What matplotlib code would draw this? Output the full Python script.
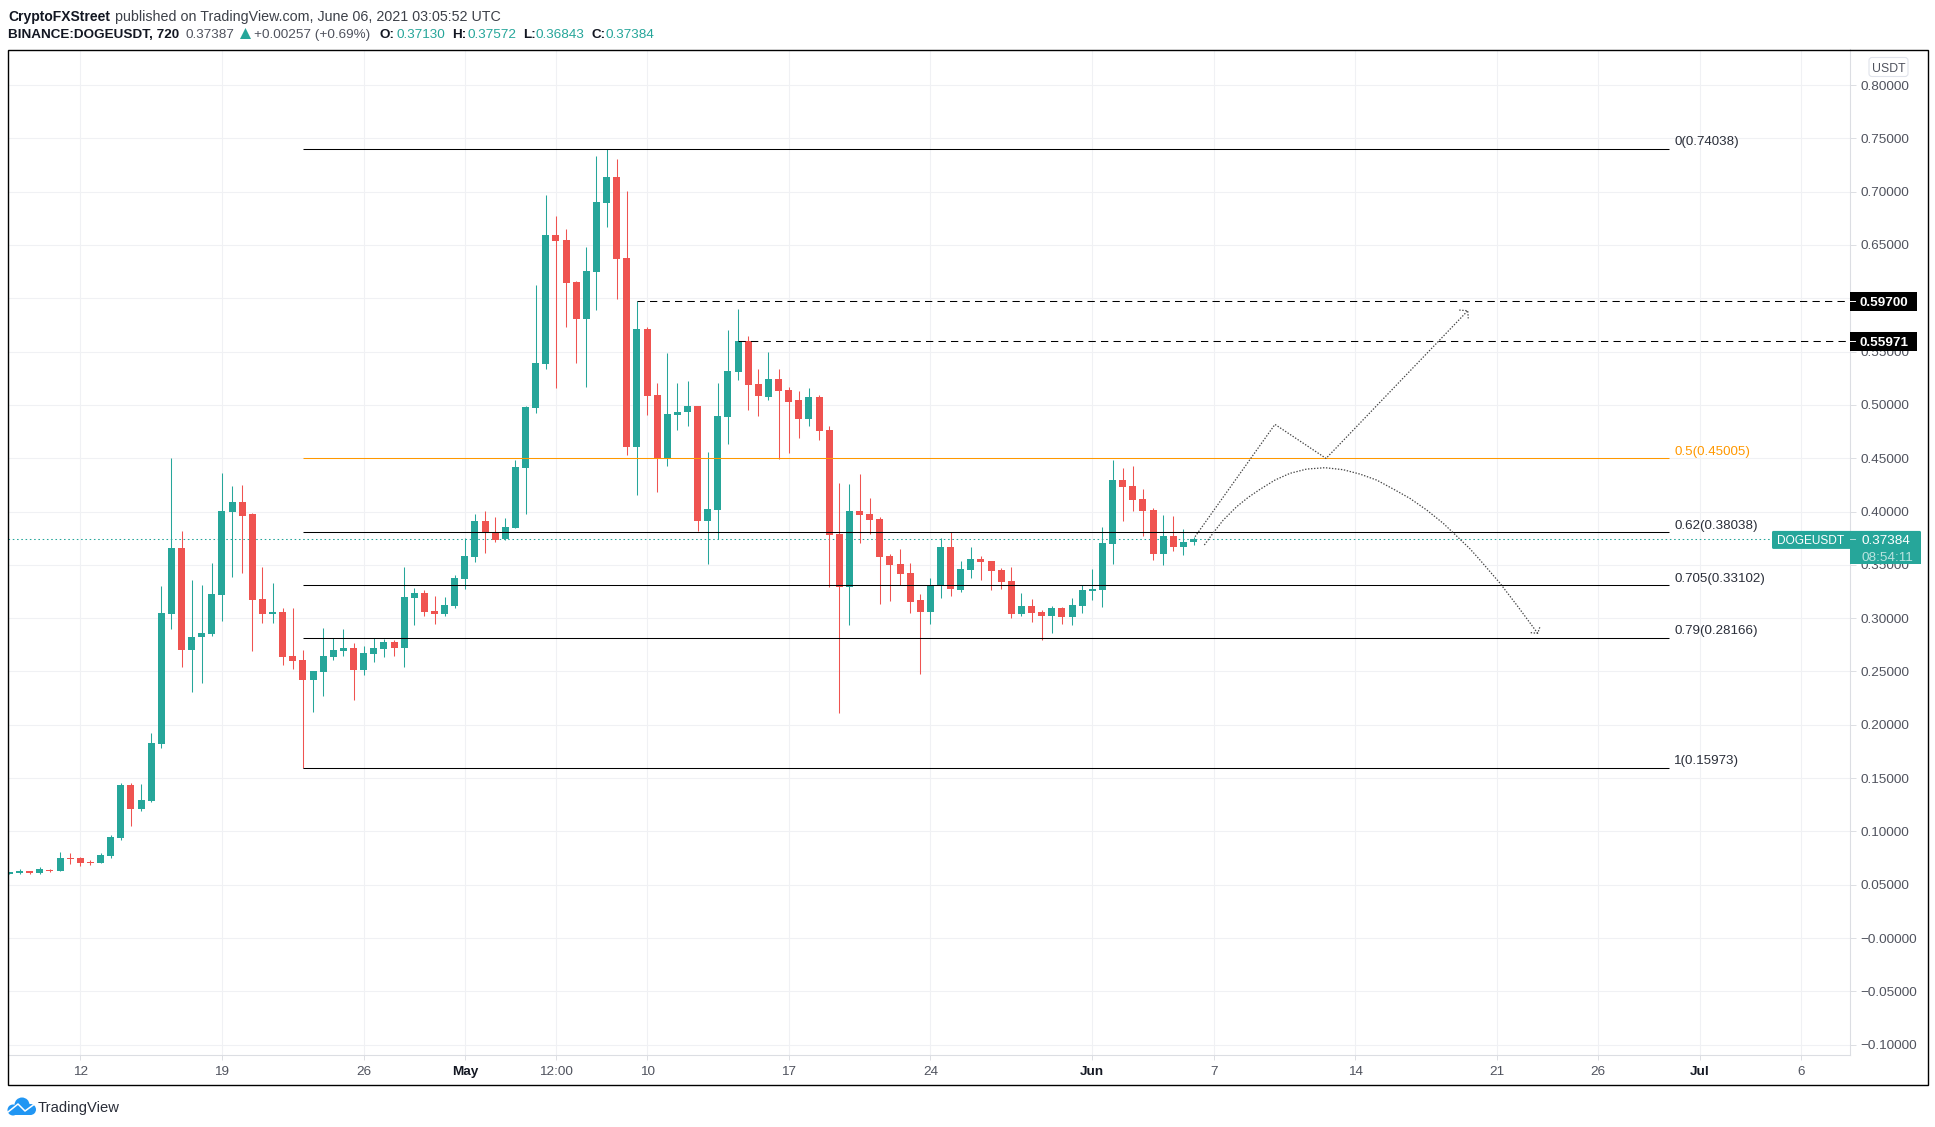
import matplotlib
matplotlib.use('Agg')
import matplotlib.pyplot as plt
from matplotlib.patches import Rectangle, FancyBboxPatch, Circle, Polygon

plt.rcParams['font.family'] = ['Liberation Sans', 'DejaVu Sans']

W, H = 1935, 1127

# 12h candles, first one is 8 Apr 2021 12:00
opens = [.0601,.0610,.0629,.0610,.0639,.0629,.0751,.0751,.0714,.0704,.0770,.0939,.1436,.1211,.1286,.1820,.3039,.3658,.2702,.2824,
         .2852,.3218,.3996,.4090,.3977,.3180,.3039,.3058,.2646,.2608,.2421,.2495,.2636,.2692,.2721,.2514,.2664,.2711,.2777,.2721,
         .3189,.3236,.3068,.3039,.3114,.3368,.3574,.3910,.3807,.3740,.3847,.4409,.4972,.5384,.6593,.6546,.6151,.5806,.6245,.6895,
         .7136,.6379,.4604,.5712,.5093,.4503,.4905,.4933,.4989,.3911,.4014,.4886,.5308,.5599,.5196,.5074,.5243,.5139,.5046,.4867,
         .5074,.4764,.3789,.3292,.4005,.3977,.3930,.3583,.3508,.3423,.3170,.3058,.3301,.3667,.3264,.3451,.3555,.3536,.3451,.3349,
         .3039,.3114,.3058,.3021,.3096,.3011,.3114,.3255,.3265,.3696,.4296,.4240,.4118,.4015,.3602,.3771,.3668,.3713]
closes = [.0620,.0629,.0610,.0648,.0629,.0751,.0742,.0704,.0704,.0779,.0948,.1436,.1211,.1295,.1830,.3049,.3658,.2702,.2824,.2861,
          .3227,.4005,.4090,.3958,.3171,.3039,.3058,.2636,.2599,.2421,.2505,.2646,.2702,.2721,.2514,.2674,.2721,.2777,.2721,.3199,
          .3236,.3058,.3039,.3124,.3377,.3583,.3912,.3800,.3736,.3853,.4416,.4979,.5394,.6593,.6536,.6144,.5806,.6255,.6901,.7136,
          .6369,.4604,.5712,.5083,.4503,.4915,.4932,.4989,.3911,.4023,.4896,.5318,.5599,.5186,.5083,.5243,.5130,.5027,.4867,.5074,
          .4755,.3780,.3292,.4005,.3967,.3920,.3573,.3498,.3414,.3151,.3058,.3311,.3667,.3273,.3461,.3555,.3526,.3442,.3339,.3039,
          .3114,.3049,.3021,.3096,.3011,.3124,.3265,.3274,.3705,.4296,.4230,.4109,.4005,.3602,.3771,.3668,.3715,.3738]
highs = [.0620,.0648,.0629,.0667,.0648,.0807,.0798,.0761,.0732,.0798,.0967,.1455,.1455,.1445,.1923,.3302,.4502,.3818,.3358,.3311,
         .3518,.4362,.4240,.4249,.3987,.3480,.3330,.3096,.3096,.2702,.2505,.2908,.2814,.2899,.2767,.2739,.2814,.2805,.2796,.3480,
         .3283,.3265,.3208,.3199,.3405,.3752,.3977,.4004,.3947,.3940,.4483,.4992,.6124,.6968,.6771,.6650,.6161,.6479,.7333,.7404,
         .7307,.7005,.5970,.5729,.5207,.5488,.5207,.5224,.4989,.4558,.5205,.5702,.5899,.5646,.5336,.5496,.5336,.5168,.5130,.5158,
         .5093,.4802,.4267,.4258,.4352,.4127,.3948,.3601,.3648,.3517,.3226,.3376,.3751,.3808,.3536,.3667,.3583,.3536,.3470,.3480,
         .3236,.3180,.3077,.3114,.3105,.3189,.3311,.3461,.3855,.4484,.4409,.4427,.4212,.4034,.3968,.3958,.3837,.3757]
lows = [.0601,.0601,.0601,.0601,.0620,.0629,.0695,.0676,.0685,.0704,.0751,.0920,.1051,.1192,.1276,.1783,.2899,.2542,.2308,.2392,
        .2833,.2977,.3386,.3424,.2692,.2955,.2955,.2561,.2524,.1597,.2120,.2270,.2608,.2646,.2233,.2467,.2589,.2636,.2646,.2542,
        .2936,.3021,.2946,.3021,.3096,.3274,.3527,.3612,.3713,.3736,.3847,.3977,.4925,.5337,.5160,.5729,.5394,.5166,.5890,.6667,
        .5994,.4530,.4155,.4905,.4182,.4426,.4764,.4802,.3817,.3508,.3742,.4633,.5233,.4952,.4896,.5046,.4492,.4549,.4689,.4802,
        .4671,.3292,.2110,.2936,.3705,.3789,.3132,.3161,.3311,.3048,.2476,.2945,.3189,.3208,.3245,.3376,.3358,.3264,.3273,.3002,
        .3021,.2964,.2796,.2861,.2946,.2936,.3049,.3171,.3105,.3508,.3912,.4005,.3771,.3546,.3499,.3630,.3593,.3684]

# fib tool
fib_levels = ['0', '0.5', '0.62', '0.705', '0.79', '1']
fib_prices = [0.74038, 0.45005, 0.38038, 0.33102, 0.28166, 0.15973]
fib_start, fib_end = 29, 164

# horizontal targets
target_prices = [0.59700, 0.55971]
target_starts = [62, 72]
last_price = 0.37384

# hand drawn forecast paths (candle index, price)
bull_x = [117.15, 125.05, 130.1, 144.1]
bull_y = [.3764, .4817, .4498, .5883]
bull_head_x = [143.26, 144.1, 144.15]
bull_head_y = [.5889, .5883, .5811]
bear_x = [118.07,118.96,119.94,121.26,122.41,123.57,125.05,126.53,128.18,129.99,131.80,133.45,135.10,136.74,138.39,140.04,141.68,143.0,144.32,145.31,147.29,148.94,151.01]
bear_y = [.3686,.3801,.3920,.4045,.4133,.4208,.4295,.4358,.4398,.4411,.4392,.4351,.4295,.4211,.4123,.4014,.3889,.3770,.3650,.3545,.3327,.3123,.2858]
bear_head_x = [150.32, 151.01, 151.24]
bear_head_y = [.2864, .2858, .2920]

price_ticks = [.8,.75,.7,.65,.6,.55,.5,.45,.4,.35,.3,.25,.2,.15,.1,.05,0,-.05,-.1]
time_ticks = [7, 21, 35, 45, 54, 63, 77, 91, 107, 119, 133, 147, 157, 167, 177]
time_labels = ['12', '19', '26', 'May', '12:00', '10', '17', '24', 'Jun', '7', '14', '21', '26', 'Jul', '6']

GREEN = '#26a69a'
RED = '#ef5350'
GRID = '#f0f1f4'
AXLINE = '#dcdee3'
LABEL = '#50535e'
DARK = '#131722'

# pane spans these pixels
pl, pr, pt, pb = 7.5, 1849.5, 49.5, 1054.5

fig = plt.figure(figsize=(W/100, H/100), dpi=100, facecolor='white')
ax = fig.add_axes([pl/W, 1-pb/H, (pr-pl)/W, (pb-pt)/H])
ax.set_xlim((pl-9.46)/10.12, (pr-9.46)/10.12)
ax.set_ylim(.8-(pb-85)/1066.3, .8-(pt-85)/1066.3)

for s in ['top', 'left']:
    ax.spines[s].set_visible(False)
for s in ['right', 'bottom']:
    ax.spines[s].set_color(AXLINE)
    ax.spines[s].set_linewidth(.8)

ax.yaxis.tick_right()
ax.set_yticks(price_ticks)
ax.set_yticklabels([('\u2212%.5f' % abs(p)) if p <= 0 else '%.5f' % p for p in price_ticks])
ax.set_xticks(time_ticks)
ax.set_xticklabels(time_labels)
ax.tick_params(axis='y', length=4.3, width=.7, color=AXLINE, labelcolor=LABEL, labelsize=9.7, pad=3.6)
ax.tick_params(axis='x', length=3.6, width=.7, color=AXLINE, labelcolor=LABEL, labelsize=9.7, pad=4.5)
for t in ax.get_xticklabels():
    if t.get_text() in ('May', 'Jun', 'Jul'):
        t.set_fontweight('bold')
        t.set_color(DARK)
ax.grid(True, color=GRID, linewidth=.8, zorder=0)
ax.set_axisbelow(True)

idx = list(range(len(opens)))
colors = [GREEN if c >= o else RED for o, c in zip(opens, closes)]
wicks = ax.vlines(idx, lows, highs, colors=colors, linewidth=.75, zorder=3)
wicks.set_snap(True)
ax.bar(idx, [abs(c-o) for o, c in zip(opens, closes)], bottom=[min(o, c) for o, c in zip(opens, closes)],
       width=.69, color=colors, linewidth=0, zorder=3)

# last price line
ax.axhline(last_price, color=GREEN, linewidth=.75, linestyle=(0, (1.5, 2.6)), zorder=2)

for lev, p in zip(fib_levels, fib_prices):
    c = '#ff9800' if lev == '0.5' else 'black'
    ax.plot([fib_start, fib_end], [p, p], color=c, linewidth=.75, zorder=4, solid_capstyle='butt')
    ax.annotate('%s(%.5f)' % (lev, p), (fib_end, p), xytext=(3.8, 4.5), textcoords='offset points',
                va='center', ha='left', fontsize=9.6, color='#ff9800' if lev == '0.5' else '#2a2e39')

for p, st in zip(target_prices, target_starts):
    ax.plot([st, ax.get_xlim()[1]], [p, p], color='black', linewidth=.75,
            linestyle=(0, (7, 5)), zorder=4)

dot = dict(color='#444444', linewidth=.9, linestyle=(0, (1.1, 1.3)), zorder=5)
ax.plot(bull_x, bull_y, **dot)
ax.plot(bull_head_x, bull_head_y, **dot)
ax.plot(bear_x, bear_y, **dot)
ax.plot(bear_head_x, bear_head_y, **dot)

# overlay in pixels for frame, tags, header and logo
ov = fig.add_axes([0, 0, 1, 1], zorder=10)
ov.set_xlim(0, W)
ov.set_ylim(H, 0)
ov.axis('off')
ov.patch.set_alpha(0)

ov.add_patch(Rectangle((7.5, 49.5), 1920, 1035.5, fill=False, edgecolor='black', linewidth=1.0))


def price_y(p):
    return 85 + (.8-p)*1066.3


for p in target_prices:
    y = price_y(p)
    ov.add_patch(Rectangle((1849.5, y-9.5), 67, 19, facecolor='black', edgecolor='none'))
    ov.plot([1849.5, 1855], [y, y], color='white', linewidth=.7)
    ov.text(1860, y, '%.5f' % p, color='white', fontsize=9.7, fontweight='bold', va='center_baseline', ha='left')

y = price_y(last_price)
ov.add_patch(FancyBboxPatch((1772, y-8.5), 149, 18, boxstyle='round,pad=0,rounding_size=1.5', facecolor=GREEN, edgecolor='none'))
ov.add_patch(Rectangle((1849.5, y+8), 71.5, 16.5, facecolor=GREEN, edgecolor='none'))
ov.plot([1849.5, 1855], [y, y], color='#b2dfdb', linewidth=.7)
ov.text(1777, y+.5, 'DOGEUSDT', color='white', fontsize=8.6, va='center_baseline', ha='left')
ov.text(1861, y+.5, '%.5f' % last_price, color='white', fontsize=9.7, va='center_baseline', ha='left')
ov.text(1861, y+17, '08:54:11', color='#b9e3df', fontsize=9.7, va='center_baseline', ha='left')

ov.add_patch(FancyBboxPatch((1869, 57.5), 39, 19, boxstyle='round,pad=0,rounding_size=3', facecolor='white', edgecolor='#e0e3eb', linewidth=.8))
ov.text(1888.5, 67.5, 'USDT', color=LABEL, fontsize=8.8, va='center_baseline', ha='center')

# header rows
ov.text(8, 15, 'CryptoFXStreet', color=DARK, fontsize=10, fontweight='bold', va='center_baseline')
ov.text(115, 15, 'published on TradingView.com, June 06, 2021 03:05:52 UTC', color='#3c4048', fontsize=10.3, va='center_baseline')
ov.text(8, 33.5, 'BINANCE:DOGEUSDT, 720', color=DARK, fontsize=9.7, fontweight='bold', va='center_baseline')
ov.text(185, 33.5, '0.37387', color=LABEL, fontsize=9.7, va='center_baseline')
ov.add_patch(Polygon([[240, 39], [251, 39], [245.5, 28]], facecolor=GREEN, edgecolor='none'))
ov.text(254.5, 33.5, '+0.00257 (+0.69%)', color=LABEL, fontsize=9.7, va='center_baseline')
for lab, lx, val, vx in [('O:', 380, '0.37130', 396.5), ('H:', 452.5, '0.37572', 468),
                         ('L:', 523, '0.36843', 535.5), ('C:', 591.5, '0.37384', 605)]:
    ov.text(lx, 33.5, lab, color=DARK, fontsize=9.7, fontweight='bold', va='center_baseline')
    ov.text(vx, 33.5, val, color=GREEN, fontsize=9.7, va='center_baseline')

# logo
BLUE = '#2196f3'
for cx, cy, r in [(13, 1110, 5.5), (22, 1105, 7.5), (30.5, 1109.5, 5.5)]:
    ov.add_patch(Circle((cx, cy), r, facecolor=BLUE, edgecolor='none'))
ov.add_patch(Rectangle((13, 1108), 18, 7, facecolor=BLUE, edgecolor='none'))
ov.plot([8, 18, 25, 36], [1112, 1104, 1111, 1103], color='white', linewidth=1.1)
ov.text(38, 1106.5, 'TradingView', color='#2a2e39', fontsize=10.6, va='center_baseline')

fig.savefig('out.png', dpi=100)
